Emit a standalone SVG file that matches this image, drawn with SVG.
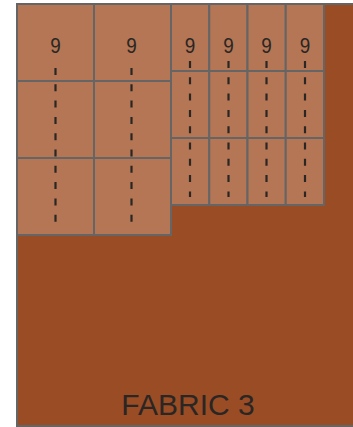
<svg xmlns="http://www.w3.org/2000/svg" width="353" height="427" viewBox="0 0 353 427">
<style>
.fab{fill:#9a4c25;stroke:#656565;stroke-width:2}
.pc{fill:#b47654;stroke:#656565;stroke-width:2}
.cut{stroke:#2a2624;stroke-width:2.2;stroke-dasharray:7 9.3;fill:none}
.n{font-family:"Liberation Sans",Arial,sans-serif;font-size:22.5px;fill:#2a2624;text-anchor:middle}
.lbl{font-family:"Liberation Sans",Arial,sans-serif;font-size:30px;fill:#2a2624;text-anchor:middle}
</style>
<g id="fabric">
<rect class="fab" x="17" y="4" width="340" height="422"/>
<text class="lbl" x="188" y="415">FABRIC 3</text>
</g>
<g id="large-pieces">
<rect class="pc" x="17" y="4" width="77" height="77"/>
<rect class="pc" x="94" y="4" width="77" height="77"/>
<rect class="pc" x="17" y="81" width="77" height="77"/>
<rect class="pc" x="94" y="81" width="77" height="77"/>
<rect class="pc" x="17" y="158" width="77" height="77"/>
<rect class="pc" x="94" y="158" width="77" height="77"/>
</g>
<g id="small-pieces">
<rect class="pc" x="171" y="4" width="38.25" height="67"/>
<rect class="pc" x="209.25" y="4" width="38.25" height="67"/>
<rect class="pc" x="247.5" y="4" width="38.25" height="67"/>
<rect class="pc" x="285.75" y="4" width="38.25" height="67"/>
<rect class="pc" x="171" y="71" width="38.25" height="67"/>
<rect class="pc" x="209.25" y="71" width="38.25" height="67"/>
<rect class="pc" x="247.5" y="71" width="38.25" height="67"/>
<rect class="pc" x="285.75" y="71" width="38.25" height="67"/>
<rect class="pc" x="171" y="138" width="38.25" height="67"/>
<rect class="pc" x="209.25" y="138" width="38.25" height="67"/>
<rect class="pc" x="247.5" y="138" width="38.25" height="67"/>
<rect class="pc" x="285.75" y="138" width="38.25" height="67"/>
</g>
<g id="connectors">
<line class="cut" x1="55.5" y1="68" x2="55.5" y2="225"/>
<line class="cut" x1="131.5" y1="68" x2="131.5" y2="225"/>
<line class="cut" x1="190" y1="61" x2="190" y2="197"/>
<line class="cut" x1="228.5" y1="61" x2="228.5" y2="197"/>
<line class="cut" x1="266.5" y1="61" x2="266.5" y2="197"/>
<line class="cut" x1="305" y1="61" x2="305" y2="197"/>
</g>
<g id="labels">
<text class="n" x="55.5" y="53" textLength="10.5" lengthAdjust="spacingAndGlyphs">9</text>
<text class="n" x="131.5" y="53" textLength="10.5" lengthAdjust="spacingAndGlyphs">9</text>
<text class="n" x="190" y="53" textLength="10.5" lengthAdjust="spacingAndGlyphs">9</text>
<text class="n" x="228.5" y="53" textLength="10.5" lengthAdjust="spacingAndGlyphs">9</text>
<text class="n" x="266.5" y="53" textLength="10.5" lengthAdjust="spacingAndGlyphs">9</text>
<text class="n" x="305" y="53" textLength="10.5" lengthAdjust="spacingAndGlyphs">9</text>
</g>
</svg>
